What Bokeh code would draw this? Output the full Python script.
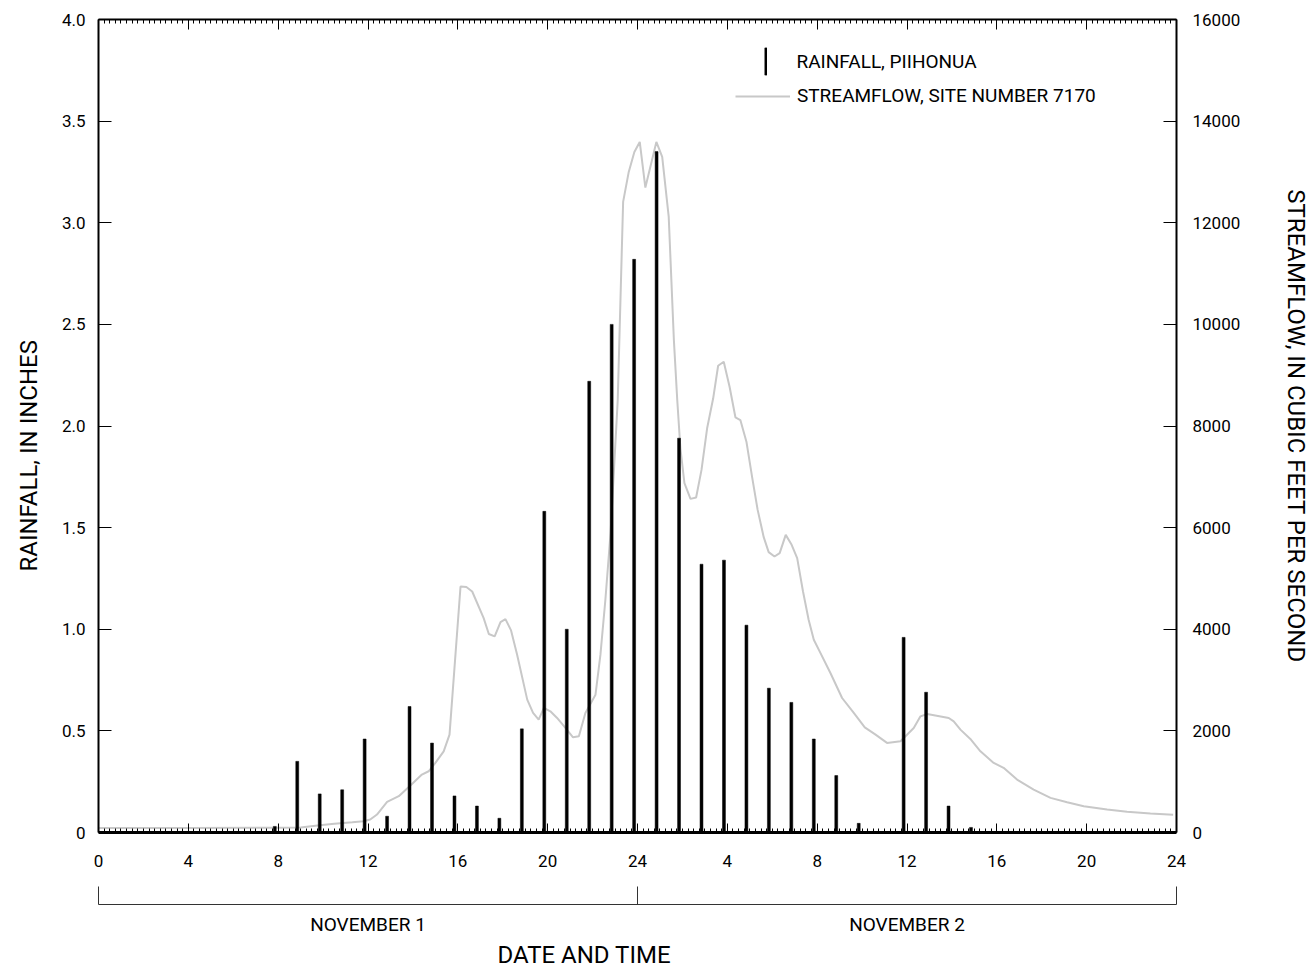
from bokeh.plotting import figure
from bokeh.models import (Range1d, LinearAxis, FixedTicker, Legend, LegendItem,
                          ColumnDataSource, CustomLabelingPolicy, Title)
from bokeh.transform import dodge
from bokeh.embed import file_html
from bokeh.resources import INLINE

FONT = "Roboto"

# ---------------- data ----------------
# hourly rainfall at Piihonua (inches); hours counted from 0000 Nov 1
rain_hours = [8, 9, 10, 11, 12, 13, 14, 15, 16, 17, 18, 19, 20, 21, 22, 23, 24,
              25, 26, 27, 28, 29, 30, 31, 32, 33, 34, 36, 37, 38, 39]
rain_in = [0.03, 0.35, 0.19, 0.21, 0.46, 0.08, 0.62, 0.44, 0.18, 0.13, 0.07,
           0.51, 1.58, 1.00, 2.22, 2.50, 2.82, 3.35, 1.94, 1.32, 1.34, 1.02,
           0.71, 0.64, 0.46, 0.28, 0.045, 0.96, 0.69, 0.13, 0.025]

# streamflow, site 7170 (cubic feet per second)
flow_hours = [0, 4, 8, 9, 9.75, 10.5, 11.3, 11.8, 12.1, 12.4, 12.85, 13.37, 13.9,
              14.4, 14.7, 15.0, 15.37, 15.63, 16.12, 16.38, 16.64, 17.15, 17.38,
              17.64, 17.9, 18.12, 18.37, 18.64, 19.09, 19.35, 19.6, 19.83, 20.12,
              20.42, 20.79, 21.13, 21.39, 21.68, 22.13, 22.35, 22.57, 22.8, 23.12,
              23.36, 23.61, 23.86, 24.1, 24.35, 24.84, 25.1, 25.39, 25.62, 25.77,
              25.91, 26.09, 26.36, 26.61, 26.85, 27.1, 27.37, 27.59, 27.84, 28.1,
              28.36, 28.58, 28.85, 29.1, 29.35, 29.62, 29.84, 30.1, 30.33, 30.6,
              30.85, 31.11, 31.37, 31.62, 31.85, 32.11, 32.59, 33.11, 33.63, 34.12,
              34.6, 35.11, 35.71, 36.3, 36.6, 36.9, 37.86, 38.08, 38.38, 38.82,
              39.27, 39.86, 40.3, 40.9, 41.64, 42.39, 43.13, 43.87, 44.91, 45.8,
              46.84, 47.85]
flow_cfs = [90, 90, 95, 100, 138, 170, 200, 222, 255, 354, 603, 714, 930,
            1140, 1205, 1370, 1598, 1926, 4842, 4830, 4743, 4220, 3906,
            3859, 4142, 4200, 3977, 3499, 2615, 2353, 2222, 2451, 2385,
            2254, 2058, 1873, 1893, 2353, 2713, 3499, 4580, 5891, 8512,
            12410, 13000, 13393, 13590, 12692, 13590, 13295, 12115, 9691, 8512,
            7562, 6874, 6566, 6592, 7136, 7955, 8545, 9186, 9264, 8773,
            8171, 8118, 7692, 7004, 6349, 5812, 5517, 5431, 5498, 5857,
            5674, 5399, 4743, 4187, 3794, 3564, 3139, 2647, 2353, 2070,
            1926, 1763, 1795, 2058, 2286, 2333, 2254, 2188, 2025, 1842,
            1598, 1370, 1272, 1042, 845, 682, 596, 517, 452, 407,
            373, 348]

x_major = [0, 4, 8, 12, 16, 20, 24, 28, 32, 36, 40, 44, 48]
x_labels = ["0", "4", "8", "12", "16", "20", "24", "4", "8", "12", "16", "20", "24"]
rain_ticks = [0, 0.5, 1.0, 1.5, 2.0, 2.5, 3.0, 3.5, 4.0]
rain_labels = ["0", "0.5", "1.0", "1.5", "2.0", "2.5", "3.0", "3.5", "4.0"]
flow_ticks = [0, 2000, 4000, 6000, 8000, 10000, 12000, 14000, 16000]
day_centers = [12, 36]
day_labels = ["NOVEMBER 1", "NOVEMBER 2"]
day_bounds = [0, 24, 48]

# ---------------- figure ----------------
p = figure(width=1313, height=969, output_backend="svg", toolbar_location=None,
           x_range=Range1d(0, 48), y_range=Range1d(0, 4),
           x_axis_type=None, y_axis_type=None,
           min_border_left=98, min_border_right=137,
           min_border_top=19, min_border_bottom=136)
p.extra_y_ranges = {"flow": Range1d(0, 16000)}
p.outline_line_color = None

x_minor = [i * 0.25 for i in range(0, 193) if (i * 0.25) % 4 != 0]
NO_LABELS = "for (const i of indices) { indices.unset(i) }\nreturn indices"


def style_common(ax):
    ax.major_label_text_font = FONT
    ax.major_label_text_font_size = "17px"
    ax.major_label_text_color = "black"
    ax.axis_line_color = "black"
    ax.major_tick_line_color = "black"
    ax.minor_tick_line_color = "black"
    ax.axis_label_text_font = FONT
    ax.axis_label_text_font_size = "24px"
    ax.axis_label_text_font_style = "normal"
    ax.axis_label_text_color = "black"


# bottom main axis
xb = LinearAxis(ticker=FixedTicker(ticks=x_major, minor_ticks=x_minor),
                major_label_overrides=dict(zip(x_major, x_labels)))
style_common(xb)
xb.axis_line_width = 3
xb.major_tick_in = 9
xb.major_tick_out = 0
xb.minor_tick_in = 4
xb.minor_tick_out = 0
xb.major_label_standoff = 22
p.add_layout(xb, "below")

# invisible spacer between tick labels and the date bracket
xs = LinearAxis(ticker=FixedTicker(ticks=[24], minor_ticks=[]),
                major_label_policy=CustomLabelingPolicy(code=NO_LABELS))
style_common(xs)
xs.major_label_text_font_size = "1px"
xs.major_label_standoff = 0
xs.axis_line_alpha = 0
xs.major_tick_line_alpha = 0
xs.major_tick_in = 0
xs.major_tick_out = 31
xs.minor_tick_in = 0
xs.minor_tick_out = 0
p.add_layout(xs, "below")

# date bracket axis
xd = LinearAxis(ticker=FixedTicker(ticks=day_centers, minor_ticks=day_bounds),
                major_label_overrides=dict(zip(day_centers, day_labels)))
style_common(xd)
xd.axis_line_width = 1
xd.axis_line_color = "#333333"
xd.minor_tick_line_color = "#333333"
xd.major_tick_in = 0
xd.major_tick_out = 0
xd.major_tick_line_alpha = 0
xd.minor_tick_in = 18
xd.minor_tick_out = 0
xd.major_label_standoff = 8
xd.major_label_text_font_size = "19px"
p.add_layout(xd, "below")

# x title, left-aligned where the reference places it
p.add_layout(Title(text="DATE AND TIME", align="left", offset=399,
                   vertical_align="bottom", standoff=1,
                   text_font=FONT, text_font_size="24px",
                   text_font_style="normal", text_color="black"), "below")

# top axis (ticks only)
xt = LinearAxis(ticker=FixedTicker(ticks=x_major, minor_ticks=x_minor),
                major_label_policy=CustomLabelingPolicy(code=NO_LABELS))
style_common(xt)
xt.major_label_text_font_size = "1px"
xt.axis_line_width = 2
xt.major_tick_in = 10
xt.major_tick_out = 0
xt.minor_tick_in = 4
xt.minor_tick_out = 0
xt.major_label_standoff = 0
p.add_layout(xt, "above")

# left axis (rainfall)
yl = LinearAxis(ticker=FixedTicker(ticks=rain_ticks, minor_ticks=[]),
                major_label_overrides=dict(zip(rain_ticks, rain_labels)))
style_common(yl)
yl.axis_line_width = 2
yl.major_tick_in = 13
yl.major_tick_out = 0
yl.minor_tick_in = 0
yl.minor_tick_out = 0
yl.major_label_standoff = 13
p.add_layout(yl, "left")

p.add_layout(Title(text="RAINFALL, IN INCHES", align="left", offset=261,
                   vertical_align="top", standoff=28,
                   text_font=FONT, text_font_size="24px",
                   text_font_style="normal", text_color="black"), "left")

# right axis (streamflow)
yr = LinearAxis(y_range_name="flow",
                ticker=FixedTicker(ticks=flow_ticks, minor_ticks=[]),
                axis_label="STREAMFLOW, IN CUBIC FEET PER SECOND")
style_common(yr)
yr.axis_line_width = 2
yr.major_tick_in = 13
yr.major_tick_out = 0
yr.minor_tick_in = 0
yr.minor_tick_out = 0
yr.major_label_standoff = 16
yr.axis_label_standoff = 39
p.add_layout(yr, "right")

# ---------------- data marks ----------------
flow_src = ColumnDataSource(dict(h=flow_hours, q=flow_cfs))
r_flow = p.line("h", "q", source=flow_src, y_range_name="flow",
                line_color="#c8c8c8", line_width=2)

rain_src = ColumnDataSource(dict(h=rain_hours, r=rain_in))
r_rain = p.vbar(x=dodge("h", -0.15, range=p.x_range), top="r", bottom=0,
                width=0.13, source=rain_src, fill_color="black", line_color="black",
                line_width=0.5)

# ---------------- legends ----------------
leg1 = Legend(items=[LegendItem(label="RAINFALL, PIIHONUA", renderers=[r_rain])],
              location=(665.5, 754), glyph_width=3, glyph_height=34,
              label_standoff=30, padding=0, margin=0, spacing=0,
              border_line_alpha=0, background_fill_alpha=0,
              label_text_font=FONT, label_text_font_size="19px",
              label_text_color="black")
leg2 = Legend(items=[LegendItem(label="STREAMFLOW, SITE NUMBER 7170", renderers=[r_flow])],
              location=(637, 725), glyph_width=55, glyph_height=20,
              label_standoff=7, padding=0, margin=0, spacing=0,
              border_line_alpha=0, background_fill_alpha=0,
              label_text_font=FONT, label_text_font_size="19px",
              label_text_color="black")
p.add_layout(leg1)
p.add_layout(leg2)

open("out.html", "w").write(file_html(p, INLINE))
